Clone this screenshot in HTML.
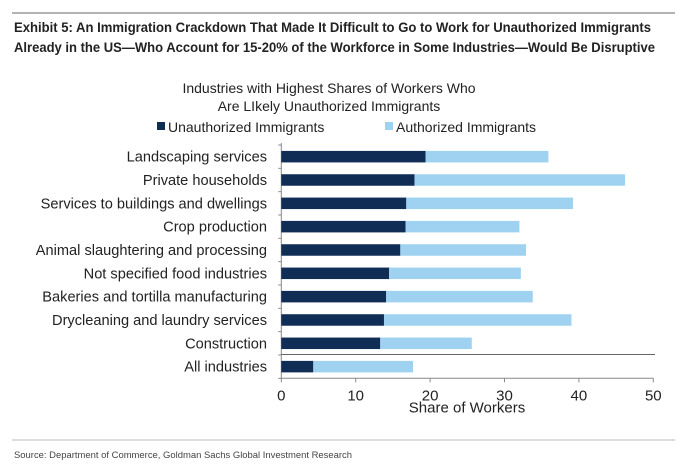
<!DOCTYPE html>
<html><head><meta charset="utf-8"><style>
body{margin:0;background:#fff;}
svg{display:block;font-family:"Liberation Sans",sans-serif;}
</style></head><body>
<svg id="c" width="685" height="465">
<line x1="12" y1="13" x2="675" y2="13" stroke="#9a9a9a" stroke-width="1.5"/>
<text x="14" y="32" textLength="637" lengthAdjust="spacingAndGlyphs" font-weight="bold" font-size="14" fill="#222">Exhibit 5: An Immigration Crackdown That Made It Difficult to Go to Work for Unauthorized Immigrants</text>
<text x="14" y="52" textLength="641" lengthAdjust="spacingAndGlyphs" font-weight="bold" font-size="14" fill="#222">Already in the US—Who Account for 15-20% of the Workforce in Some Industries—Would Be Disruptive</text>
<text x="329" y="93" text-anchor="middle" font-size="14" fill="#222">Industries with Highest Shares of Workers Who</text>
<text x="329" y="111" text-anchor="middle" font-size="14" fill="#222">Are LIkely Unauthorized Immigrants</text>
<g>
<rect x="157" y="122" width="8" height="8" fill="#0f2d55"/>
<text x="168" y="132" font-size="14" fill="#222">Unauthorized Immigrants</text>
<rect x="385" y="122" width="8" height="8" fill="#9ed2f0"/>
<text x="396" y="132" font-size="14" fill="#222">Authorized Immigrants</text>
</g>
<g id="plot"></g>
<line x1="12" y1="440" x2="675" y2="440" stroke="#bbb" stroke-width="1"/>
<text x="14" y="458" textLength="338" lengthAdjust="spacingAndGlyphs" font-size="9" fill="#444">Source: Department of Commerce, Goldman Sachs Global Investment Research</text>
</svg>
<script>
const categories=["Landscaping services","Private households","Services to buildings and dwellings","Crop production","Animal slaughtering and processing","Not specified food industries","Bakeries and tortilla manufacturing","Drycleaning and laundry services","Construction","All industries"];
const unauthorized=[19.4,17.9,16.8,16.7,16.0,14.5,14.1,13.8,13.3,4.3];
const authorized=[16.5,28.3,22.4,15.3,16.9,17.7,19.7,25.2,12.3,13.4];
const xTicks=[0,10,20,30,40,50];
const NS="http://www.w3.org/2000/svg";
const g=document.getElementById('plot');
const x0=281.3,x1=653.3,xMax=50,yTop=145,yBot=378.3;
const band=(yBot-yTop)/categories.length;
function xs(v){return x0+(v/xMax)*(x1-x0);}
function yc(i){return yTop+band*(i+0.5);}
function mk(t,a){const e=document.createElementNS(NS,t);for(const k in a)e.setAttribute(k,a[k]);g.appendChild(e);return e;}
let e;
e=mk('line',{x1:x0,y1:yTop-2,x2:x0,y2:yBot,stroke:'#888','stroke-width':1});


for(let i=0;i<=categories.length;i++){
 e=mk('line',{x1:x0-3,y1:yTop+band*i,x2:x0,y2:yTop+band*i,stroke:'#888'});
 
 
}
const bh=11.5;
categories.forEach((c,i)=>{
 const y=yc(i);
 e=mk('text',{x:267,y:y+5,'text-anchor':'end','font-size':14.6,fill:'#222'});e.textContent=c;
 
 
 e=mk('rect',{x:xs(0),y:y-bh/2,width:xs(unauthorized[i])-xs(0),height:bh,fill:'#0f2d55'});
 
 
 e=mk('rect',{x:xs(unauthorized[i]),y:y-bh/2,width:xs(unauthorized[i]+authorized[i])-xs(unauthorized[i]),height:bh,fill:'#9ed2f0'});
 
 
});
e=mk('line',{x1:x0,y1:yTop+band*9-0.5,x2:655,y2:yTop+band*9-0.5,stroke:'#666','stroke-width':1});


e=mk('line',{x1:x0,y1:yBot,x2:x1,y2:yBot,stroke:'#888'});


xTicks.forEach(t=>{
 e=mk('line',{x1:xs(t),y1:yBot,x2:xs(t),y2:yBot+4,stroke:'#888'});
 
 
 e=mk('text',{x:xs(t),y:yBot+22,'text-anchor':'middle','font-size':15,fill:'#222'});e.textContent=t;
 
 
});
e=mk('text',{x:467,y:yBot+34,'text-anchor':'middle','font-size':15,fill:'#222'});e.textContent='Share of Workers';


</script>
</body></html>
